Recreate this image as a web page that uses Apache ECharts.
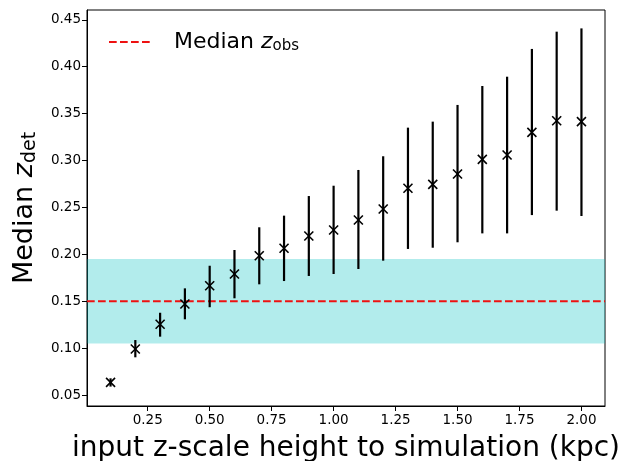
<!DOCTYPE html>
<html>
<head>
<meta charset="utf-8">
<script src="https://cdn.jsdelivr.net/npm/echarts@6/dist/echarts.min.js"></script>
<style>
  html, body { margin: 0; padding: 0; background: #fff; }
  #chart { width: 623px; height: 461px; }
</style>
</head>
<body>
<div id="chart"></div>
<script>
// input z-scale height (kpc)
const heights = [0.1, 0.2, 0.3, 0.4, 0.5, 0.6, 0.7, 0.8, 0.9, 1.0,
                 1.1, 1.2, 1.3, 1.4, 1.5, 1.6, 1.7, 1.8, 1.9, 2.0];
// median z_det and its spread
const medianZ = [0.0635, 0.099, 0.1254, 0.147, 0.1665, 0.179, 0.1985, 0.2064, 0.2195, 0.2259,
                 0.2366, 0.2483, 0.2704, 0.2746, 0.2856, 0.3012, 0.3059, 0.330, 0.3424, 0.3414];
const lowerZ = [0.059, 0.0902, 0.1122, 0.1307, 0.1436, 0.1531, 0.168, 0.1715, 0.1769, 0.179,
                0.1843, 0.1932, 0.2057, 0.207, 0.2128, 0.2223, 0.2223, 0.2418, 0.2465, 0.2408];
const upperZ = [0.0678, 0.1086, 0.1377, 0.1637, 0.1878, 0.2046, 0.2288, 0.2412, 0.2621, 0.2731,
                0.2899, 0.3045, 0.335, 0.3414, 0.3592, 0.3794, 0.3893, 0.4189, 0.4373, 0.4408];
// observed median z and its band
const zObs = 0.15;
const zObsBand = [0.105, 0.195];
const xTicks = [0.25, 0.5, 0.75, 1.0, 1.25, 1.5, 1.75, 2.0];
const yTicks = [0.05, 0.10, 0.15, 0.20, 0.25, 0.30, 0.35, 0.40, 0.45];

const xMin = 0.005, xMax = 2.095;
const yMin = 0.0383, yMax = 0.4604;
const font = 'DejaVu Sans';

let points = heights.map((h, i) => [h, medianZ[i], lowerZ[i], upperZ[i]]);

// errorbar + 'x' marker for each point
function renderPoint(params, api) {
    let x = api.value(0);
    let c = api.coord([x, api.value(1)]);
    let lo = api.coord([x, api.value(2)]);
    let hi = api.coord([x, api.value(3)]);
    let s = 4.5;
    let stroke = {stroke: '#000', lineWidth: 1.6};
    return {
        type: 'group',
        children: [
            {type: 'line', shape: {x1: lo[0], y1: lo[1], x2: hi[0], y2: hi[1]},
             style: {stroke: '#000', lineWidth: 2.2}},
            {type: 'line', shape: {x1: c[0] - s, y1: c[1] - s, x2: c[0] + s, y2: c[1] + s}, style: stroke},
            {type: 'line', shape: {x1: c[0] - s, y1: c[1] + s, x2: c[0] + s, y2: c[1] - s}, style: stroke}
        ]
    };
}

let chart = echarts.init(document.getElementById('chart'));
let option = {
    backgroundColor: '#fff',
    animation: false,
    textStyle: {fontFamily: font},
    grid: {left: 87, right: 18, top: 10, bottom: 55, show: true,
           outerBoundsMode: 'none', containLabel: false,
           borderColor: '#000', borderWidth: 1, backgroundColor: 'transparent'},
    legend: {
        left: 103, top: 26,
        itemWidth: 44, itemHeight: 14,
        itemStyle: {opacity: 0},
        data: ['Median z_obs'],
        formatter: function () { return '{a|Median }{z|z}{s|obs}'; },
        textStyle: {
            color: '#000',
            rich: {
                a: {fontSize: 22, fontFamily: font, color: '#000', padding: [0, 0, 0, 16]},
                z: {fontSize: 22, fontFamily: font, fontStyle: 'italic', color: '#000'},
                s: {fontSize: 15, fontFamily: font, color: '#000', verticalAlign: 'bottom', padding: [9, 0, 0, 0]}
            }
        }
    },
    xAxis: {
        type: 'value', min: xMin, max: xMax,
        name: 'input z-scale height to simulation (kpc)',
        nameLocation: 'middle', nameGap: 29,
        nameTextStyle: {fontSize: 28, color: '#000', fontFamily: font},
        axisLine: {show: true, onZero: false, lineStyle: {color: '#000', width: 1}},
        axisTick: {show: true, length: 5, customValues: xTicks, lineStyle: {color: '#000'}},
        axisLabel: {customValues: xTicks, fontSize: 13.5, color: '#000', margin: 7,
                    formatter: v => v.toFixed(2)},
        splitLine: {show: false}
    },
    yAxis: {
        type: 'value', min: yMin, max: yMax,
        name: '{a|Median }{z|z}{s|det}',
        nameLocation: 'middle', nameGap: 46, nameRotate: 90,
        nameTextStyle: {
            color: '#000',
            rich: {
                a: {fontSize: 27, fontFamily: font, color: '#000'},
                z: {fontSize: 27, fontFamily: font, fontStyle: 'italic', color: '#000'},
                s: {fontSize: 19, fontFamily: font, color: '#000', verticalAlign: 'bottom', padding: [11, 0, 0, 0]}
            }
        },
        axisLine: {show: true, onZero: false, lineStyle: {color: '#000', width: 1}},
        axisTick: {show: true, length: 5, customValues: yTicks, lineStyle: {color: '#000'}},
        axisLabel: {customValues: yTicks, fontSize: 13.5, color: '#000', margin: 6,
                    formatter: v => v.toFixed(2)},
        splitLine: {show: false}
    },
    series: [
        {
            name: 'Median z_obs',
            type: 'line',
            symbol: 'none',
            z: 2,
            data: [[xMin, zObs], [xMax, zObs]],
            lineStyle: {color: '#ee1111', width: 2.1, type: [7.7, 3.3]},
            itemStyle: {color: '#ee1111'},
            markArea: {
                silent: true,
                itemStyle: {color: 'rgba(0,191,191,0.3)'},
                data: [[{yAxis: zObsBand[0]}, {yAxis: zObsBand[1]}]]
            }
        },
        {
            name: 'points',
            type: 'custom',
            z: 3,
            renderItem: renderPoint,
            encode: {x: 0, y: 1},
            data: points
        }
    ]
};
chart.setOption(option);
</script>
</body>
</html>
